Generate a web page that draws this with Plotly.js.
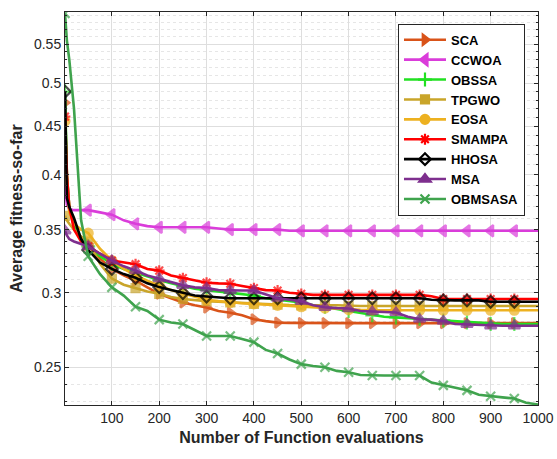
<!DOCTYPE html>
<html>
<head>
<meta charset="utf-8">
<script src="https://cdn.plot.ly/plotly-3.0.1.min.js"></script>
<style>html,body{margin:0;padding:0;background:#fff;}#chart{width:557px;height:459px;}</style>
</head>
<body>
<div id="chart"></div>
<script>
// Evaluation numbers where values are sampled
const xEval = [1,5,10,20,35,50,75,100,125,150,175,200,225,250,275,300,325,350,375,400,425,450,475,500,525,550,575,600,625,650,675,700,725,750,775,800,825,850,875,900,925,950,975,1000];
// Evaluations carrying a marker
const markerEval = [1,50,100,150,200,250,300,350,400,450,500,550,600,650,700,750,800,850,900,950];

const seriesNames = ["SCA","CCWOA","OBSSA","TPGWO","EOSA","SMAMPA","HHOSA","MSA","OBMSASA"];

const SCA = [0.477,0.40,0.37,0.352,0.343,0.338,0.326,0.318,0.313,0.309,0.304,0.2993,0.296,0.293,0.291,0.2894,0.287,0.2858,0.284,0.2813,0.280,0.279,0.2788,0.2787,0.2786,0.2786,0.2786,0.2786,0.2786,0.2786,0.2786,0.2786,0.2786,0.2786,0.2786,0.2786,0.2786,0.2786,0.2786,0.2786,0.2786,0.2786,0.2786,0.2786];
const CCWOA = [0.39,0.372,0.368,0.367,0.367,0.367,0.365,0.363,0.358,0.355,0.353,0.352,0.352,0.352,0.352,0.352,0.351,0.350,0.350,0.350,0.350,0.350,0.349,0.349,0.349,0.349,0.349,0.349,0.349,0.349,0.349,0.349,0.349,0.349,0.349,0.349,0.349,0.349,0.349,0.349,0.349,0.349,0.349,0.349];
const OBSSA = [0.49,0.40,0.37,0.355,0.343,0.336,0.328,0.322,0.318,0.315,0.312,0.3095,0.307,0.305,0.303,0.302,0.301,0.300,0.299,0.298,0.296,0.295,0.294,0.293,0.291,0.290,0.2885,0.287,0.2855,0.284,0.283,0.2825,0.282,0.2815,0.281,0.2805,0.2795,0.279,0.2785,0.278,0.278,0.278,0.278,0.278];
const TPGWO = [0.362,0.358,0.355,0.350,0.344,0.340,0.322,0.3106,0.306,0.3035,0.301,0.2993,0.297,0.2955,0.2945,0.294,0.2935,0.293,0.2925,0.292,0.2918,0.2915,0.2912,0.291,0.291,0.291,0.291,0.2905,0.2905,0.2905,0.2905,0.2905,0.2905,0.2905,0.2905,0.2905,0.2905,0.2905,0.2905,0.2905,0.2905,0.2905,0.2905,0.2905];
const EOSA = [0.456,0.39,0.365,0.355,0.350,0.347,0.334,0.3245,0.318,0.313,0.309,0.3055,0.302,0.2995,0.297,0.295,0.294,0.293,0.2925,0.292,0.2915,0.291,0.2905,0.290,0.2895,0.289,0.2885,0.288,0.2878,0.2876,0.2875,0.2875,0.2875,0.2875,0.2875,0.2875,0.2875,0.2875,0.2875,0.2875,0.2875,0.2875,0.2875,0.2875];
const SMAMPA = [0.461,0.40,0.37,0.350,0.340,0.336,0.330,0.3245,0.323,0.3217,0.318,0.3167,0.313,0.311,0.309,0.3075,0.307,0.3067,0.305,0.3035,0.302,0.3017,0.300,0.2993,0.2985,0.2985,0.2985,0.2985,0.2985,0.2985,0.2985,0.2985,0.2985,0.2985,0.2975,0.2955,0.2955,0.2955,0.2955,0.2955,0.2955,0.2955,0.2955,0.2955];
const HHOSA = [0.49,0.378,0.37,0.36,0.342,0.333,0.323,0.318,0.314,0.3112,0.307,0.3042,0.302,0.2998,0.298,0.2973,0.2965,0.296,0.296,0.296,0.296,0.296,0.296,0.296,0.296,0.296,0.296,0.296,0.296,0.296,0.296,0.296,0.296,0.296,0.295,0.2945,0.2945,0.2945,0.2945,0.2935,0.2935,0.2935,0.2935,0.2935];
const MSA = [0.349,0.345,0.342,0.340,0.338,0.336,0.330,0.3245,0.320,0.3168,0.313,0.3106,0.308,0.3055,0.304,0.3035,0.302,0.3017,0.3017,0.3017,0.299,0.2961,0.295,0.2938,0.291,0.2896,0.289,0.2887,0.287,0.2866,0.286,0.2859,0.283,0.2813,0.281,0.280,0.278,0.2777,0.277,0.2768,0.2768,0.2768,0.2768,0.2768];
const OBMSASA = [0.593,0.555,0.53,0.47,0.358,0.328,0.314,0.304,0.298,0.290,0.287,0.281,0.279,0.278,0.274,0.270,0.270,0.270,0.268,0.266,0.261,0.2587,0.255,0.2521,0.251,0.2502,0.248,0.2472,0.2455,0.2452,0.2452,0.2452,0.2452,0.2452,0.241,0.2394,0.238,0.2365,0.234,0.2331,0.2325,0.2318,0.2295,0.2285];

const yTickVals = [0.25,0.3,0.35,0.4,0.45,0.5,0.55];
const yTickText = ["0.25","0.3","0.35","0.4","0.45","0.5","0.55"];
const yMinorVals = [0.23,0.24,0.26,0.27,0.28,0.29,0.31,0.32,0.33,0.34,0.36,0.37,0.38,0.39,0.41,0.42,0.43,0.44,0.46,0.47,0.48,0.49,0.51,0.52,0.53,0.54,0.56,0.57,0.58,0.59];
const xTickVals = [100,200,300,400,500,600,700,800,900,1000];

const allValues = [SCA,CCWOA,OBSSA,TPGWO,EOSA,SMAMPA,HHOSA,MSA,OBMSASA];
const styles = [
  {color:'#D95319', symbol:'triangle-right', size:9},
  {color:'#DA3CDA', symbol:'triangle-left', size:10},
  {color:'#22E022', symbol:'cross-thin-open', size:10},
  {color:'#C9A52A', symbol:'square', size:8},
  {color:'#EDB120', symbol:'circle', size:9},
  {color:'#FF0000', symbol:'asterisk-open', size:9},
  {color:'#000000', symbol:'diamond-open', size:9},
  {color:'#7E2F8E', symbol:'triangle-up', size:10},
  {color:'#3FA34D', symbol:'x-thin-open', size:9}
];

const traces = [];
allValues.forEach((vals, i) => {
  const st = styles[i];
  const sizes = xEval.map(x => markerEval.includes(x) ? st.size : 0);
  traces.push({
    x: xEval, y: vals, type: 'scatter', mode: 'lines+markers',
    name: seriesNames[i], showlegend: false, legendgroup: seriesNames[i],
    line: {color: st.color, width: 2.6},
    marker: {symbol: st.symbol, size: sizes, color: st.color, line: {color: st.color, width: 2.2}},
    cliponaxis: true
  });
});
allValues.forEach((vals, i) => {
  const st = styles[i];
  traces.push({
    x: [null], y: [null], type: 'scatter', mode: 'lines+markers',
    name: seriesNames[i], showlegend: true, legendgroup: seriesNames[i],
    line: {color: st.color, width: 2.6},
    marker: {symbol: st.symbol, size: st.size, color: st.color, line: {color: st.color, width: 2.2}}
  });
});

const layout = {
  width: 557, height: 459,
  margin: {l: 65, r: 19, t: 12, b: 54},
  paper_bgcolor: '#ffffff', plot_bgcolor: '#ffffff',
  font: {family: 'Liberation Sans, Arial, sans-serif', size: 14, color: '#262626'},
  showlegend: true,
  legend: {
    x: 0.9725, xanchor: 'right', y: 0.97, yanchor: 'top',
    bgcolor: '#ffffff', bordercolor: '#262626', borderwidth: 1,
    font: {family: 'Liberation Sans, Arial, sans-serif', size: 13, color: '#000', weight: 'bold'},
    tracegroupgap: 0, itemwidth: 42
  },
  xaxis: {
    range: [1, 1000], tickmode: 'array', tickvals: xTickVals,
    showgrid: true, gridcolor: '#dedede', gridwidth: 1,
    showline: true, linecolor: '#262626', linewidth: 1, mirror: 'allticks',
    ticks: 'inside', ticklen: 4, tickcolor: '#262626', zeroline: false,
    tickfont: {size: 14, color: '#262626'},
    title: {text: 'Number of Function evaluations', font: {size: 16, color: '#262626', weight: 'bold'}, standoff: 7}
  },
  yaxis: {
    type: 'log', range: [Math.log10(0.2282), Math.log10(0.595)],
    tickmode: 'array', tickvals: yTickVals, ticktext: yTickText,
    showgrid: true, gridcolor: '#dedede', gridwidth: 1,
    showline: true, linecolor: '#262626', linewidth: 1, mirror: 'allticks',
    ticks: 'inside', ticklen: 4, tickcolor: '#262626', zeroline: false,
    tickfont: {size: 14, color: '#262626'},
    minor: {tickmode: 'array', tickvals: yMinorVals, showgrid: true, gridcolor: '#e6e6e6', griddash: 'dot', gridwidth: 1, ticks: 'inside', ticklen: 2, tickcolor: '#262626'},
    title: {text: 'Average fitness-so-far', font: {size: 16, color: '#262626', weight: 'bold'}, standoff: 7}
  }
};

Plotly.newPlot('chart', traces, layout, {displayModeBar: false, staticPlot: true});
</script>
</body>
</html>
